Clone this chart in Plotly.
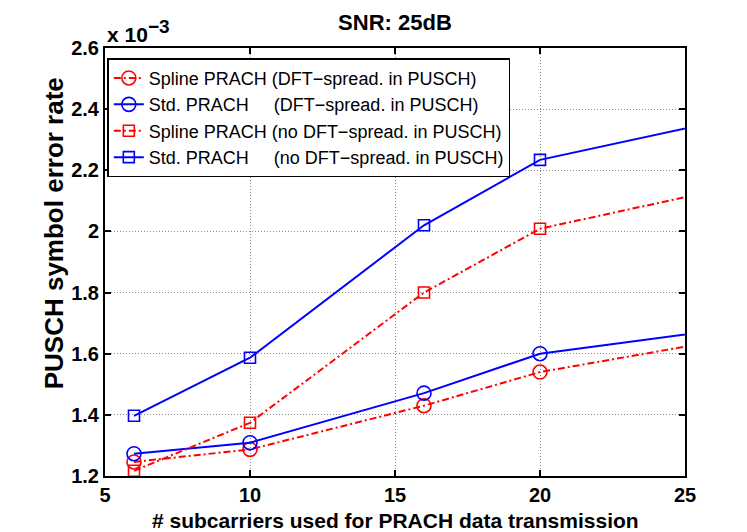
import plotly.graph_objects as go

# x values: number of subcarriers (last point lies past the axis end)
subcarriers = [6, 10, 16, 20, 30]

# symbol error rate values, in units of 1e-3
spline_dft = [1.246, 1.287, 1.430, 1.540, 1.706]
std_dft = [1.273, 1.309, 1.471, 1.600, 1.726]
spline_nodft = [1.217, 1.374, 1.800, 2.009, 2.215]
std_nodft = [1.397, 1.587, 2.020, 2.234, 2.440]

series_names = [
    "Spline PRACH (DFT\u2212spread. in PUSCH)",
    "Std. PRACH" + "\u00a0" * 5 + "(DFT\u2212spread. in PUSCH)",
    "Spline PRACH (no DFT\u2212spread. in PUSCH)",
    "Std. PRACH" + "\u00a0" * 5 + "(no DFT\u2212spread. in PUSCH)",
]

x_ticks = [5, 10, 15, 20, 25]
y_ticks = [1.2, 1.4, 1.6, 1.8, 2.0, 2.2, 2.4, 2.6]
y_tick_labels = ["1.2", "1.4", "1.6", "1.8", "2", "2.2", "2.4", "2.6"]

FONT = "Liberation Sans, Arial, Helvetica, sans-serif"
RED = "#ff0000"
BLUE = "#0000ff"
DASHDOT = "7px,3px,2px,3px"


def make_trace(y, name, color, symbol, size, dash):
    return go.Scatter(
        x=subcarriers, y=y, name=name, mode="lines+markers",
        line=dict(color=color, width=2, dash=dash),
        marker=dict(symbol=symbol, size=size, color=color,
                    line=dict(color=color, width=1.6)),
    )


fig = go.Figure()
fig.add_trace(make_trace(spline_dft, series_names[0], RED, "circle-open", 14, DASHDOT))
fig.add_trace(make_trace(std_dft, series_names[1], BLUE, "circle-open", 14, "solid"))
fig.add_trace(make_trace(spline_nodft, series_names[2], RED, "square-open", 11, DASHDOT))
fig.add_trace(make_trace(std_nodft, series_names[3], BLUE, "square-open", 11, "solid"))

axis_style = dict(
    showline=True, linecolor="black", linewidth=2, mirror="ticks",
    ticks="inside", ticklen=6, tickwidth=1.5, tickcolor="black",
    showgrid=True, gridcolor="#8c8c8c", gridwidth=1, griddash="1px,2px",
    zeroline=False,
    tickfont=dict(family=FONT, size=20, color="black", weight="bold"),
)

fig.update_xaxes(range=[5, 25], tickvals=x_ticks, **axis_style)
fig.update_yaxes(range=[1.2, 2.6], tickvals=y_ticks, ticktext=y_tick_labels,
                 **axis_style)

fig.update_layout(
    width=747, height=532,
    margin=dict(l=97, r=70, t=40, b=64),
    paper_bgcolor="white", plot_bgcolor="white",
    font=dict(family=FONT, color="black"),
    title=dict(text="SNR: 25dB", x=0.518, xanchor="center",
               y=0.974, yanchor="middle",
               font=dict(family=FONT, size=22, color="black", weight="bold")),
    legend=dict(
        x=0.004, y=0.976, xanchor="left", yanchor="top",
        bgcolor="white", bordercolor="black", borderwidth=1.5,
        font=dict(family=FONT, size=18, color="black"),
        itemwidth=30, tracegroupgap=0,
    ),
    showlegend=True,
)

# x axis label as an annotation so it stays inside the figure
fig.add_annotation(
    xref="paper", yref="paper", x=0.5, y=-0.105,
    xanchor="center", yanchor="middle", showarrow=False,
    text="# subcarriers used for PRACH data transmission",
    font=dict(family=FONT, size=21, color="black", weight="bold"),
)

# y axis label (sits a little above the axis centre, as in the original)
fig.add_annotation(
    xref="paper", yref="paper", x=-0.088, y=0.567,
    xanchor="center", yanchor="middle", textangle=-90, showarrow=False,
    text="PUSCH symbol error rate",
    font=dict(family=FONT, size=26, color="black", weight="bold"),
)

# MATLAB-style exponent label above the y axis
fig.add_annotation(
    xref="paper", yref="paper", x=0, y=1, xanchor="left", yanchor="bottom",
    yshift=0, showarrow=False,
    text="x 10<sup><span style='font-size:19px'>\u22123</span></sup>",
    font=dict(family=FONT, size=21, color="black", weight="bold"),
)

fig.write_html("out.html")
